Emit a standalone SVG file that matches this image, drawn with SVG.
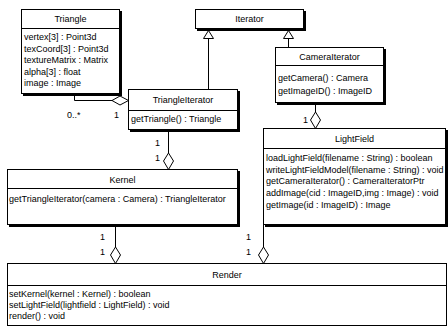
<svg xmlns="http://www.w3.org/2000/svg" width="448" height="327" viewBox="0 0 448 327">
<style>
text{font-family:"Liberation Sans",Arial,sans-serif;font-size:9px;fill:#000}
.t{text-anchor:middle}
.box{fill:#fff;stroke:#000;stroke-width:1}
.sh{fill:#000}
.ln{stroke:#000;stroke-width:1;fill:none}
.dia{fill:#fff;stroke:#000;stroke-width:1}
</style>
<rect width="448" height="327" fill="#fff"/>
<g id="connectors">
<polyline class="ln" points="74.5,93.5 74.5,100.5 112,100.5"/>
<polygon class="dia" points="112,100.5 120,96 128.5,100.5 120,105"/>
<line class="ln" x1="208.5" y1="38.5" x2="208.5" y2="89.5"/>
<polygon class="dia" points="208.5,30.5 203.5,38.5 213.5,38.5"/>
<line class="ln" x1="288.5" y1="38.5" x2="288.5" y2="47.5"/>
<polygon class="dia" points="288.5,30.5 283.5,38.5 293.5,38.5"/>
<line class="ln" x1="168.5" y1="129.5" x2="168.5" y2="153"/>
<polygon class="dia" points="168.5,153 173.5,161 168.5,169.5 163.5,161"/>
<line class="ln" x1="315.5" y1="102.5" x2="315.5" y2="112"/>
<polygon class="dia" points="315.5,112 320.5,120 315.5,128.5 310.5,120"/>
<line class="ln" x1="115.5" y1="224.5" x2="115.5" y2="247"/>
<polygon class="dia" points="115.5,247 120.5,255 115.5,263.5 110.5,255"/>
<line class="ln" x1="263.5" y1="224.5" x2="263.5" y2="247"/>
<polygon class="dia" points="263.5,247 268.5,255 263.5,263.5 258.5,255"/>
<text x="67" y="118">0..*</text>
<text x="114" y="118">1</text>
<text x="155" y="146">1</text>
<text x="155" y="161">1</text>
<text x="303" y="123">1</text>
<text x="100" y="240">1</text>
<text x="100" y="255">1</text>
<text x="246" y="240">1</text>
<text x="246" y="255">1</text>
</g>
<g id="Triangle">
<rect class="sh" x="23" y="11" width="99" height="85"/>
<rect class="box" x="21.5" y="9.5" width="98" height="84"/>
<line class="ln" x1="21.5" y1="28.5" x2="119.5" y2="28.5"/>
<text class="t" x="70.5" y="22">Triangle</text>
<text x="24" y="40">vertex[3] : Point3d</text>
<text x="24" y="51.5">texCoord[3] : Point3d</text>
<text x="24" y="63">textureMatrix : Matrix</text>
<text x="24" y="74.5">alpha[3] : float</text>
<text x="24" y="86">image : Image</text>
</g>
<g id="Iterator">
<rect class="sh" x="197" y="11" width="109" height="20"/>
<rect class="box" x="195.5" y="9.5" width="108" height="19"/>
<text class="t" x="249.5" y="22">Iterator</text>
</g>
<g id="CameraIterator">
<rect class="sh" x="277" y="49" width="109" height="56"/>
<rect class="box" x="275.5" y="47.5" width="108" height="55"/>
<line class="ln" x1="275.5" y1="65.5" x2="383.5" y2="65.5"/>
<text class="t" x="329.5" y="60">CameraIterator</text>
<text x="278" y="81">getCamera() : Camera</text>
<text x="278" y="93.5">getImageID() : ImageID</text>
</g>
<g id="TriangleIterator">
<rect class="sh" x="130" y="91" width="110" height="41"/>
<rect class="box" x="128.5" y="89.5" width="109" height="40"/>
<line class="ln" x1="128.5" y1="110.5" x2="237.5" y2="110.5"/>
<text class="t" x="183" y="103">TriangleIterator</text>
<text x="131" y="121.5">getTriangle() : Triangle</text>
</g>
<g id="Kernel">
<rect class="sh" x="9" y="171" width="231" height="56"/>
<rect class="box" x="7.5" y="169.5" width="230" height="55"/>
<line class="ln" x1="7.5" y1="188.5" x2="237.5" y2="188.5"/>
<text class="t" x="122.5" y="182.5">Kernel</text>
<text x="9" y="202">getTriangleIterator(camera : Camera) : TriangleIterator</text>
</g>
<g id="LightField">
<rect class="sh" x="265" y="130" width="183" height="97"/>
<rect class="box" x="263.5" y="128.5" width="182" height="96"/>
<line class="ln" x1="263.5" y1="148.5" x2="445.5" y2="148.5"/>
<text class="t" x="354.5" y="142">LightField</text>
<text x="266" y="161">loadLightField(filename : String) : boolean</text>
<text x="266" y="172.7">writeLightFieldModel(filename : String) : void</text>
<text x="266" y="184.4">getCameraIterator() : CameraIteratorPtr</text>
<text x="266" y="196.1">addImage(cid : ImageID,img : Image) : void</text>
<text x="266" y="207.8">getImage(id : ImageID) : Image</text>
</g>
<g id="Render">
<rect class="box" x="7.5" y="263.5" width="439" height="62"/>
<line class="ln" x1="7.5" y1="285.5" x2="446.5" y2="285.5"/>
<text class="t" x="227" y="277.5">Render</text>
<text x="9" y="296.5">setKernel(kernel : Kernel) : boolean</text>
<text x="9" y="307.5">setLightField(lightfield : LightField) : void</text>
<text x="9" y="318.5">render() : void</text>
</g>
</svg>
